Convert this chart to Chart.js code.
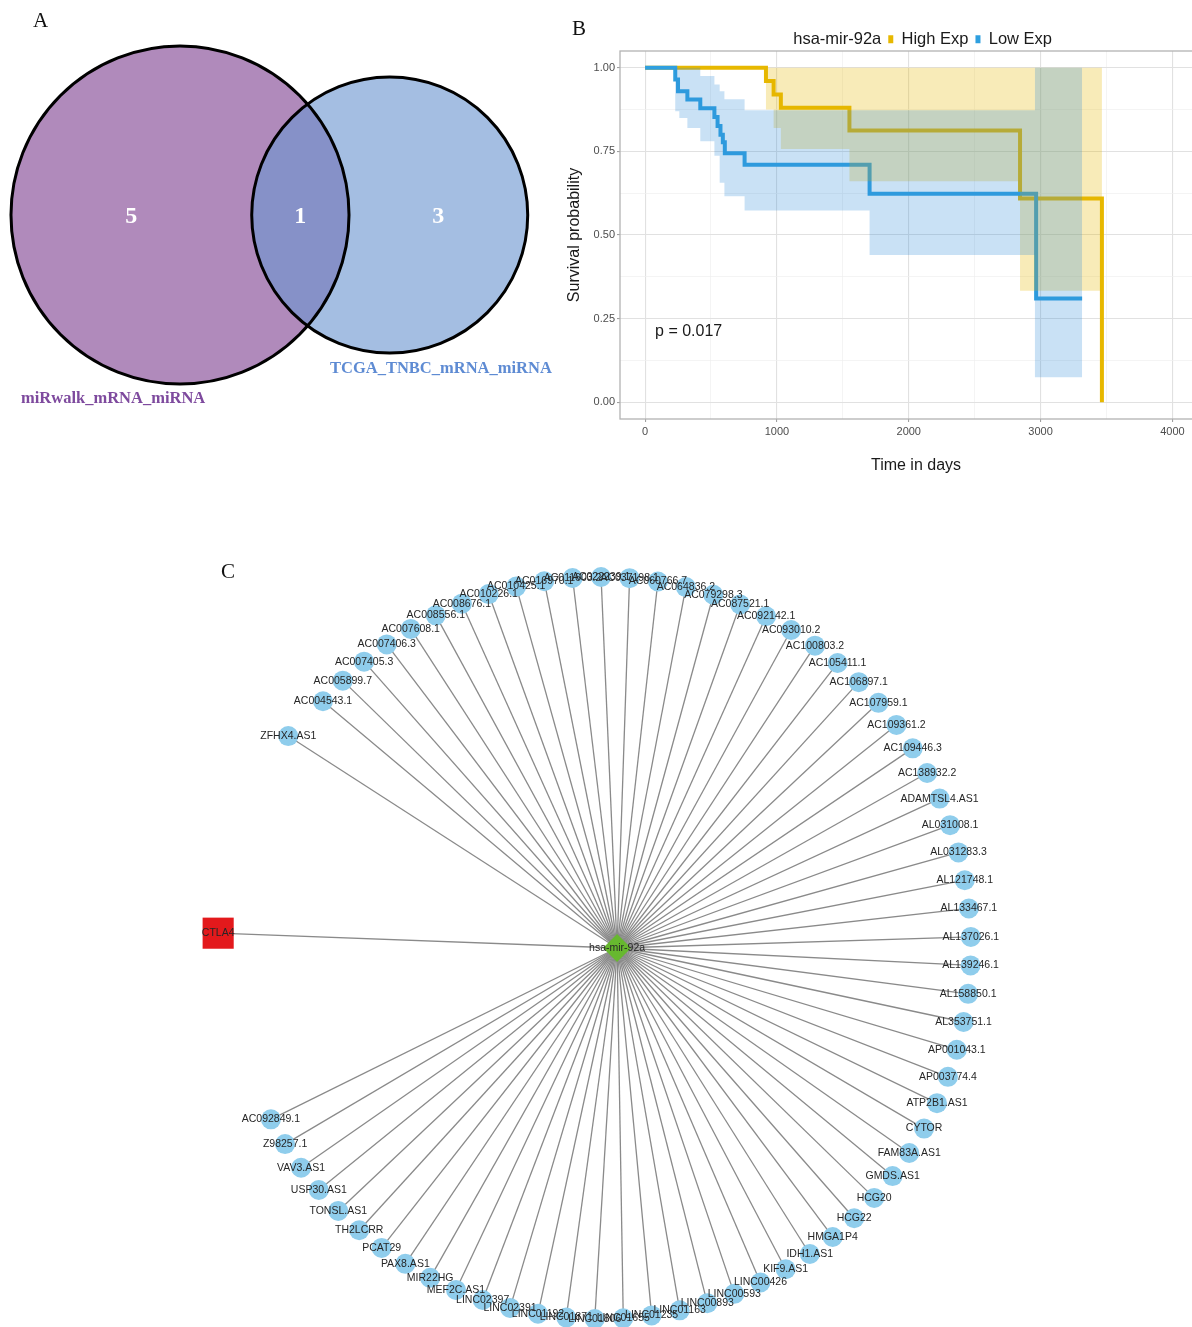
<!DOCTYPE html>
<html>
<head>
<meta charset="utf-8">
<title>Figure</title>
<script src="https://cdn.jsdelivr.net/npm/chart.js@4.4.1/dist/chart.umd.min.js"></script>
<style>
  html, body { margin:0; padding:0; background:#ffffff; width:1192px; height:1327px; overflow:hidden; }
  canvas { position:absolute; }
  .tag { position:absolute; font-family:"Liberation Serif","Times New Roman",serif; font-size:21px; color:#111; line-height:24px; }
</style>
</head>
<body>
<canvas id="venn" width="560" height="420" style="left:0px;top:0px"></canvas>
<canvas id="surv" width="652" height="480" style="left:560px;top:0px"></canvas>
<canvas id="net" width="840" height="772" style="left:180px;top:555px"></canvas>
<div class="tag" style="left:33px;top:8px">A</div>
<div class="tag" style="left:572px;top:16px">B</div>
<div class="tag" style="left:221px;top:559px">C</div>
<script>
// ================= DATA =================
// Panel A: Venn counts
const vennSetNames = ['miRwalk_mRNA_miRNA', 'TCGA_TNBC_mRNA_miRNA'];
const vennUniqueCounts = [5, 3];
const vennSharedCount = 1;

// Panel B: Kaplan-Meier curves
const survLegendTitle = 'hsa-mir-92a';
const survGroups = ['High Exp', 'Low Exp'];
const highTime = [0, 917, 975, 1030, 1550, 2844, 3465];
const highSurv = [1, 0.96, 0.92, 0.88, 0.812, 0.609, 0];
const lowTime = [0, 229, 250, 321, 419, 526, 550, 572, 590, 605, 755, 1703, 2966, 3315];
const lowSurv = [1, 0.965, 0.93, 0.905, 0.879, 0.853, 0.826, 0.80, 0.777, 0.744, 0.71, 0.623, 0.31, 0.31];
const highCiTime = [0, 917, 975, 1030, 1550, 2844, 3465];
const highUpper = [1, 1, 1, 1, 1, 1, 1];
const highLower = [1, 0.875, 0.82, 0.757, 0.661, 0.333, 0.333];
const lowCiTime = [0, 229, 260, 321, 419, 526, 566, 602, 755, 1703, 2957, 3315];
const lowUpper = [1, 1, 1, 1, 0.975, 0.95, 0.93, 0.906, 0.873, 0.873, 1, 1];
const lowLower = [1, 0.87, 0.85, 0.82, 0.78, 0.737, 0.656, 0.616, 0.573, 0.44, 0.075, 0.075];
const survXTicks = [0, 1000, 2000, 3000, 4000];
const survXMinor = [500, 1500, 2500, 3500];
const survYTicks = [0, 0.25, 0.5, 0.75, 1];
const survYMinor = [0.125, 0.375, 0.625, 0.875];
const pValueText = 'p = 0.017';
const pValueAt = [76, 0.21];

// Panel C: network
const hubMiRNA = 'hsa-mir-92a';
const targetMRNA = 'CTLA4';
const ringLncRNAs = ['AC004543.1','AC005899.7','AC007405.3','AC007406.3','AC007608.1','AC008556.1','AC008676.1','AC010226.1','AC010425.1','AC016970.1','AC011603.2','AC022239.1','AC037198.1','AC060766.7','AC064836.2','AC079298.3','AC087521.1','AC092142.1','AC093010.2','AC100803.2','AC105411.1','AC106897.1','AC107959.1','AC109361.2','AC109446.3','AC138932.2','ADAMTSL4.AS1','AL031008.1','AL031283.3','AL121748.1','AL133467.1','AL137026.1','AL139246.1','AL158850.1','AL353751.1','AP001043.1','AP003774.4','ATP2B1.AS1','CYTOR','FAM83A.AS1','GMDS.AS1','HCG20','HCG22','HMGA1P4','IDH1.AS1','KIF9.AS1','LINC00426','LINC00593','LINC00893','LINC01163','LINC01235','LINC01655','LINC01806','LINC01871','LINC01192','LINC02391','LINC02397','MEF2C.AS1','MIR22HG','PAX8.AS1','PCAT29','TH2LCRR','TONSL.AS1','USP30.AS1','VAV3.AS1','Z98257.1','AC092849.1'];
const detachedLncRNA = 'ZFHX4.AS1';

// ================= LAYOUT (not data) =================
const VENN_LAYOUT = { pxPerUnit: 122.3, firstCenterPx: [180, 215], w: 560, h: 420 };
const NET_LAYOUT = { pxPerUnit: 371, centerPx: [420, 393], w: 840, h: 772,
  startDeg: 221.7, stepDeg: 4.406, detached: { slot: -1.7, r: 1.016 }, mrna: { slot: -8.96, r: 1.03 }, hubX: 0.046 };

Chart.defaults.font.family = '"Liberation Sans", Arial, sans-serif';
Chart.defaults.animation = false;
Chart.defaults.events = [];
Chart.defaults.plugins.tooltip.enabled = false;

// ================= PANEL A: VENN =================
const vennSizes = [vennUniqueCounts[0] + vennSharedCount, vennUniqueCounts[1] + vennSharedCount];
const vennR = vennSizes.map(n => Math.sqrt(n / Math.PI));
function lensArea(r1, r2, d) {
  if (d >= r1 + r2) return 0;
  if (d <= Math.abs(r1 - r2)) return Math.PI * Math.min(r1, r2) ** 2;
  const a1 = Math.acos((d * d + r1 * r1 - r2 * r2) / (2 * d * r1));
  const a2 = Math.acos((d * d + r2 * r2 - r1 * r1) / (2 * d * r2));
  return r1 * r1 * a1 + r2 * r2 * a2 - 0.5 * Math.sqrt((-d + r1 + r2) * (d + r1 - r2) * (d - r1 + r2) * (d + r1 + r2));
}
let lo = Math.abs(vennR[0] - vennR[1]) + 1e-9, hi = vennR[0] + vennR[1];
for (let i = 0; i < 80; i++) { const mid = (lo + hi) / 2; if (lensArea(vennR[0], vennR[1], mid) > vennSharedCount) lo = mid; else hi = mid; }
const vennD = (lo + hi) / 2;
const vennCenters = [{ x: 0, y: 0 }, { x: vennD, y: 0 }];
const radiusPx = (chart, r) => Math.abs(chart.scales.x.getPixelForValue(r) - chart.scales.x.getPixelForValue(0));

const vennTextPlugin = {
  id: 'vennText',
  afterDatasetsDraw(chart) {
    const { ctx, scales: { x, y } } = chart;
    const r1 = vennR[0], r2 = vennR[1], d = vennD;
    const mids = [(-r1 + d - r2) / 2, (d - r2 + r1) / 2, (r1 + d + r2) / 2];
    const counts = [vennUniqueCounts[0], vennSharedCount, vennUniqueCounts[1]];
    ctx.save();
    ctx.fillStyle = '#ffffff';
    ctx.font = 'bold 24px "Liberation Serif", "Times New Roman", serif';
    ctx.textAlign = 'center'; ctx.textBaseline = 'middle';
    mids.forEach((m, i) => ctx.fillText(String(counts[i]), x.getPixelForValue(m), y.getPixelForValue(0) + 2));
    ctx.font = 'bold 16.5px "Liberation Serif", "Times New Roman", serif';
    ctx.fillStyle = '#7e4a9e'; ctx.textAlign = 'left';
    ctx.fillText(vennSetNames[0], x.getPixelForValue(-r1) + 10, y.getPixelForValue(-r1) + 15);
    ctx.fillStyle = '#5e8bd3'; ctx.textAlign = 'center';
    ctx.fillText(vennSetNames[1], x.getPixelForValue(d + 0.4 * r2) - 4, y.getPixelForValue(-r2) + 16);
    ctx.restore();
  }
};

new Chart(document.getElementById('venn'), {
  type: 'scatter',
  data: {
    datasets: [
      { data: [vennCenters[0]], pointBackgroundColor: '#b08abb', pointBorderWidth: 0, pointBorderColor: 'rgba(0,0,0,0)',
        pointRadius: c => radiusPx(c.chart, vennR[0]), order: 3, clip: false },
      { data: [vennCenters[1]], pointBackgroundColor: 'rgba(108,150,208,0.62)', pointBorderWidth: 0, pointBorderColor: 'rgba(0,0,0,0)',
        pointRadius: c => radiusPx(c.chart, vennR[1]), order: 2, clip: false },
      { data: vennCenters, pointBackgroundColor: 'rgba(0,0,0,0)', pointBorderColor: '#000000', pointBorderWidth: 3,
        pointRadius: c => radiusPx(c.chart, vennR[c.dataIndex]), order: 1, clip: false }
    ]
  },
  options: {
    responsive: false,
    layout: { padding: 0, autoPadding: false },
    scales: {
      x: { type: 'linear', display: false,
           min: -VENN_LAYOUT.firstCenterPx[0] / VENN_LAYOUT.pxPerUnit,
           max: (VENN_LAYOUT.w - VENN_LAYOUT.firstCenterPx[0]) / VENN_LAYOUT.pxPerUnit },
      y: { type: 'linear', display: false,
           max: VENN_LAYOUT.firstCenterPx[1] / VENN_LAYOUT.pxPerUnit,
           min: -(VENN_LAYOUT.h - VENN_LAYOUT.firstCenterPx[1]) / VENN_LAYOUT.pxPerUnit }
    },
    plugins: { legend: { display: false } }
  },
  plugins: [vennTextPlugin]
});

// ================= PANEL B: SURVIVAL =================
const xy = (xs, ys) => xs.map((v, i) => ({ x: v, y: ys[i] }));
const GOLD = '#E7B800', BLUE = '#2E9FDF';
const near = (arr, v) => arr.some(a => Math.abs(a - v) < 1e-9);
const NONE = 'rgba(0,0,0,0)';

const survPanelPlugin = {
  id: 'survPanel',
  afterDatasetsDraw(chart) {
    const { ctx, chartArea: a, scales: { x, y } } = chart;
    ctx.save();
    ctx.strokeStyle = '#b3b3b3'; ctx.lineWidth = 1.3;
    ctx.strokeRect(a.left, a.top, a.right - a.left, a.bottom - a.top);
    ctx.fillStyle = '#1a1a1a';
    ctx.font = '16px "Liberation Sans", Arial, sans-serif';
    ctx.textAlign = 'left'; ctx.textBaseline = 'middle';
    ctx.fillText(pValueText, x.getPixelForValue(pValueAt[0]), y.getPixelForValue(pValueAt[1]));
    ctx.restore();
  }
};

new Chart(document.getElementById('surv'), {
  type: 'line',
  data: {
    datasets: [
      { label: survGroups[0], data: xy(highTime, highSurv), borderColor: GOLD, borderWidth: 4, stepped: true,
        pointRadius: 0, fill: false, order: 5, borderCapStyle: 'butt', borderJoinStyle: 'miter' },
      { label: survGroups[1], data: xy(lowTime, lowSurv), borderColor: BLUE, borderWidth: 4, stepped: true,
        pointRadius: 0, fill: false, order: 4, borderCapStyle: 'butt', borderJoinStyle: 'miter' },
      { label: 'high upper', data: xy(highCiTime, highUpper), borderColor: NONE, borderWidth: 0, stepped: true,
        pointRadius: 0, fill: '+1', backgroundColor: 'rgba(231,184,0,0.28)', order: 3 },
      { label: 'high lower', data: xy(highCiTime, highLower), borderColor: NONE, borderWidth: 0, stepped: true,
        pointRadius: 0, fill: false, order: 3 },
      { label: 'low upper', data: xy(lowCiTime, lowUpper), borderColor: NONE, borderWidth: 0, stepped: true,
        pointRadius: 0, fill: '+1', backgroundColor: 'rgba(46,140,215,0.26)', order: 2 },
      { label: 'low lower', data: xy(lowCiTime, lowLower), borderColor: NONE, borderWidth: 0, stepped: true,
        pointRadius: 0, fill: false, order: 2 }
    ]
  },
  options: {
    responsive: false,
    layout: { padding: { top: 24, left: 0, right: 0, bottom: 0 }, autoPadding: false },
    scales: {
      x: {
        type: 'linear', min: -190, max: 4300,
        afterBuildTicks: a => { a.ticks = survXTicks.concat(survXMinor).sort((p, q) => p - q).map(v => ({ value: v })); },
        afterFit: s => { s.height = 61; },
        border: { display: false },
        grid: {
          color: c => near(survXTicks, c.tick.value) ? '#e1e1e1' : '#efefef',
          lineWidth: c => near(survXTicks, c.tick.value) ? 1.1 : 0.7,
          tickColor: c => near(survXTicks, c.tick.value) ? '#a0a0a0' : NONE,
          tickLength: 3, drawTicks: true
        },
        ticks: { autoSkip: false, maxRotation: 0, padding: 3, color: '#4d4d4d', font: { size: 11 },
          callback: v => near(survXTicks, v) ? String(v) : '' },
        title: { display: true, text: 'Time in days', color: '#1a1a1a', font: { size: 16 }, padding: { top: 0, bottom: 5 } }
      },
      y: {
        type: 'linear', min: -0.05, max: 1.05,
        afterBuildTicks: a => { a.ticks = survYTicks.concat(survYMinor).sort((p, q) => p - q).map(v => ({ value: v })); },
        afterFit: s => { s.width = 60; },
        border: { display: false },
        grid: {
          color: c => near(survYTicks, c.tick.value) ? '#e1e1e1' : '#efefef',
          lineWidth: c => near(survYTicks, c.tick.value) ? 1.1 : 0.7,
          tickColor: c => near(survYTicks, c.tick.value) ? '#a0a0a0' : NONE,
          tickLength: 3, drawTicks: true
        },
        ticks: { autoSkip: false, padding: 2, color: '#4d4d4d', font: { size: 11 },
          callback: v => near(survYTicks, v) ? v.toFixed(2) : '' },
        title: { display: true, text: 'Survival probability', color: '#1a1a1a', font: { size: 16 }, padding: { top: 5, bottom: 0 } }
      }
    },
    plugins: {
      legend: {
        display: true, position: 'top', align: 'center', fullSize: false, maxHeight: 27,
        labels: {
          boxWidth: 5, boxHeight: 8, padding: 7, font: { size: 16.5 }, color: '#1a1a1a',
          generateLabels: () => [
            { text: survLegendTitle, fillStyle: NONE, strokeStyle: NONE, lineWidth: 0, hidden: false, datasetIndex: -1, fontColor: '#1a1a1a' },
            { text: survGroups[0], fillStyle: GOLD, strokeStyle: GOLD, lineWidth: 0, hidden: false, datasetIndex: 0, fontColor: '#1a1a1a' },
            { text: survGroups[1], fillStyle: BLUE, strokeStyle: BLUE, lineWidth: 0, hidden: false, datasetIndex: 1, fontColor: '#1a1a1a' }
          ]
        }
      }
    }
  },
  plugins: [survPanelPlugin]
});

// ================= PANEL C: NETWORK =================
const nodePos = (slot, r) => {
  const t = (NET_LAYOUT.startDeg + slot * NET_LAYOUT.stepDeg) * Math.PI / 180;
  return { x: r * Math.cos(t), y: -r * Math.sin(t) };
};
const lncPts = ringLncRNAs.map((g, i) => Object.assign(nodePos(i, 1), { label: g }));
lncPts.push(Object.assign(nodePos(NET_LAYOUT.detached.slot, NET_LAYOUT.detached.r), { label: detachedLncRNA }));
const mrnaPt = Object.assign(nodePos(NET_LAYOUT.mrna.slot, NET_LAYOUT.mrna.r), { label: targetMRNA });
const hubPt = { x: NET_LAYOUT.hubX, y: 0, label: hubMiRNA };

const edgeSets = lncPts.concat([mrnaPt]).map(p => ({
  data: [{ x: hubPt.x, y: hubPt.y }, { x: p.x, y: p.y }], showLine: true, borderColor: '#8a8a8a', borderWidth: 1.3,
  pointRadius: 0, order: 3, clip: false
}));

const netLabelPlugin = {
  id: 'netLabels',
  afterDatasetsDraw(chart) {
    const { ctx, scales: { x, y } } = chart;
    ctx.save();
    ctx.fillStyle = '#262626';
    ctx.font = '10.5px "Liberation Sans", Arial, sans-serif';
    ctx.textAlign = 'center'; ctx.textBaseline = 'middle';
    lncPts.concat([mrnaPt, hubPt]).forEach(p => ctx.fillText(p.label, x.getPixelForValue(p.x), y.getPixelForValue(p.y)));
    ctx.restore();
  }
};

new Chart(document.getElementById('net'), {
  type: 'scatter',
  data: {
    datasets: [
      { data: [hubPt], pointStyle: 'rectRot', pointRadius: 14, pointBackgroundColor: '#67b82f', pointBorderWidth: 0, pointBorderColor: NONE, order: 0, clip: false },
      { data: [mrnaPt], pointStyle: 'rect', pointRadius: 22, pointBackgroundColor: '#e3191c', pointBorderWidth: 0, pointBorderColor: NONE, order: 0, clip: false },
      { data: lncPts, pointStyle: 'circle', pointRadius: 10, pointBackgroundColor: '#8fcdec', pointBorderWidth: 0, pointBorderColor: NONE, order: 1, clip: false }
    ].concat(edgeSets)
  },
  options: {
    responsive: false,
    layout: { padding: 0, autoPadding: false },
    scales: {
      x: { type: 'linear', display: false,
           min: -NET_LAYOUT.centerPx[0] / NET_LAYOUT.pxPerUnit,
           max: (NET_LAYOUT.w - NET_LAYOUT.centerPx[0]) / NET_LAYOUT.pxPerUnit },
      y: { type: 'linear', display: false,
           max: NET_LAYOUT.centerPx[1] / NET_LAYOUT.pxPerUnit,
           min: -(NET_LAYOUT.h - NET_LAYOUT.centerPx[1]) / NET_LAYOUT.pxPerUnit }
    },
    plugins: { legend: { display: false } }
  },
  plugins: [netLabelPlugin]
});
</script>
</body>
</html>
